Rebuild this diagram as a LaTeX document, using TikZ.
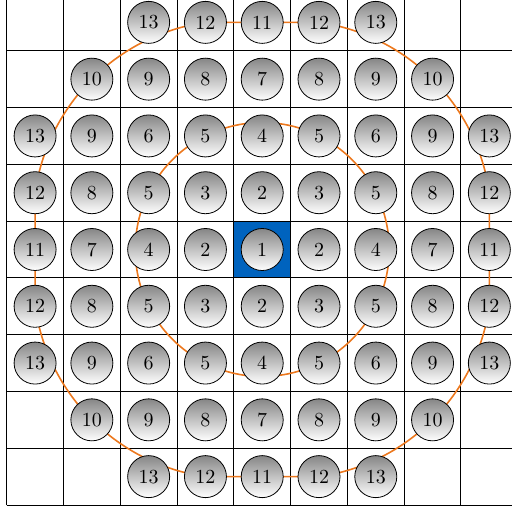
\documentclass[tikz,border=0pt]{standalone}
\definecolor{centreblue}{RGB}{0,99,190}
\definecolor{ringorange}{RGB}{236,120,30}
\begin{document}
\begin{tikzpicture}[
 cell/.style={draw,line width=0.5pt},
 ball/.style={circle,draw,thin,minimum size=0.74cm,inner sep=0pt,
              top color=gray!95,bottom color=white},
 ring/.style={ringorange,line width=0.8pt}]
\useasboundingbox (-0.118,-0.106) rectangle (8.899,8.894);
\fill[centreblue] (4,4) rectangle (5,5);
\draw[cell] (0,0) grid (9,9);
% cell centres, row 0 at the top
\foreach \r/\row in {0/{0,0,13,12,11,12,13,0,0},1/{0,10,9,8,7,8,9,10,0},
  2/{13,9,6,5,4,5,6,9,13},3/{12,8,5,3,2,3,5,8,12},4/{11,7,4,2,1,2,4,7,11},
  5/{12,8,5,3,2,3,5,8,12},6/{13,9,6,5,4,5,6,9,13},7/{0,10,9,8,7,8,9,10,0},
  8/{0,0,13,12,11,12,13,0,0}}
  \foreach \v [count=\c from 0] in \row
    \coordinate (p-\r-\c) at (\c+0.5,8.5-\r);
% rings
\draw[ring] (p-4-4) circle[radius=2.2361];
\draw[ring] (p-3-0) -- (p-5-0) arc[start angle=188.13,end angle=261.87,radius=3.5355]
  -- (p-8-5) arc[start angle=278.13,end angle=351.87,radius=3.5355]
  -- (p-3-8) arc[start angle=8.13,end angle=81.87,radius=3.5355]
  -- (p-0-3) arc[start angle=98.13,end angle=171.87,radius=3.5355] -- cycle;
% balls
\foreach \r/\row in {0/{0,0,13,12,11,12,13,0,0},1/{0,10,9,8,7,8,9,10,0},
  2/{13,9,6,5,4,5,6,9,13},3/{12,8,5,3,2,3,5,8,12},4/{11,7,4,2,1,2,4,7,11},
  5/{12,8,5,3,2,3,5,8,12},6/{13,9,6,5,4,5,6,9,13},7/{0,10,9,8,7,8,9,10,0},
  8/{0,0,13,12,11,12,13,0,0}}
  \foreach \v [count=\c from 0] in \row
    {\ifnum\v>0 \node[ball] (n-\r-\c) at (p-\r-\c) {\v};\fi}
\end{tikzpicture}
\end{document}
